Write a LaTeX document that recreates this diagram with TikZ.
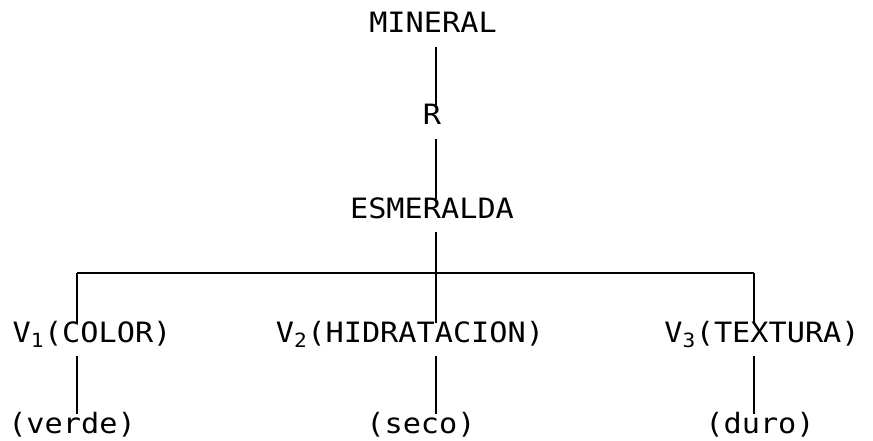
\documentclass[tikz,border=0pt]{standalone}
\usepackage{fontspec}
\newfontfamily\plotfont[FakeStretch=1.08]{DejaVu Sans Mono}
\tikzset{
	word/.style={font=\plotfont\fontsize{28pt}{28pt}\selectfont, inner sep=0pt, text height=19pt, text depth=0pt, anchor=base},
	stem/.style={line width=2pt, shorten <=14pt},
	bar/.style={line width=2pt}
}
\begin{document}
\begin{tikzpicture}[x=1pt,y=-1pt]
	\useasboundingbox (0,0) rectangle (873,441);
	\node[word] (min) at (433,33) {MINERAL};
	\node[word] (r) at (432,125) {R};
	\node[word] (esm) at (432,218) {ESMERALDA};
	\node[word] (v1) at (92,342) {V\textsubscript{1}(COLOR)};
	\node[word] (v2) at (410,342) {V\textsubscript{2}(HIDRATACION)};
	\node[word] (v3) at (762,342) {V\textsubscript{3}(TEXTURA)};
	\node[word] (verde) at (72,433) {(verde)};
	\node[word] (seco) at (421,433) {(seco)};
	\node[word] (duro) at (760,433) {(duro)};
	\coordinate (spine) at (436,273);
	\coordinate (b1) at (77,273);
	\coordinate (b3) at (754,273);
	\draw[stem](min.south -| spine)--(r.north -| spine);
	\draw[stem](r.south -| spine)--(esm.north -| spine);
	\draw[stem](esm.south -| spine)--(spine);
	\draw[bar](b1)--(b3);
	\draw[bar](b1)--(b1 |- v1.north);
	\draw[bar](spine)--(spine |- v2.north);
	\draw[bar](b3)--(b3 |- v3.north);
	\draw[stem](v1.south -| b1)--(b1 |- verde.north);
	\draw[stem](v2.south -| spine)--(spine |- seco.north);
	\draw[stem](v3.south -| b3)--(b3 |- duro.north);
\end{tikzpicture}
\end{document}
